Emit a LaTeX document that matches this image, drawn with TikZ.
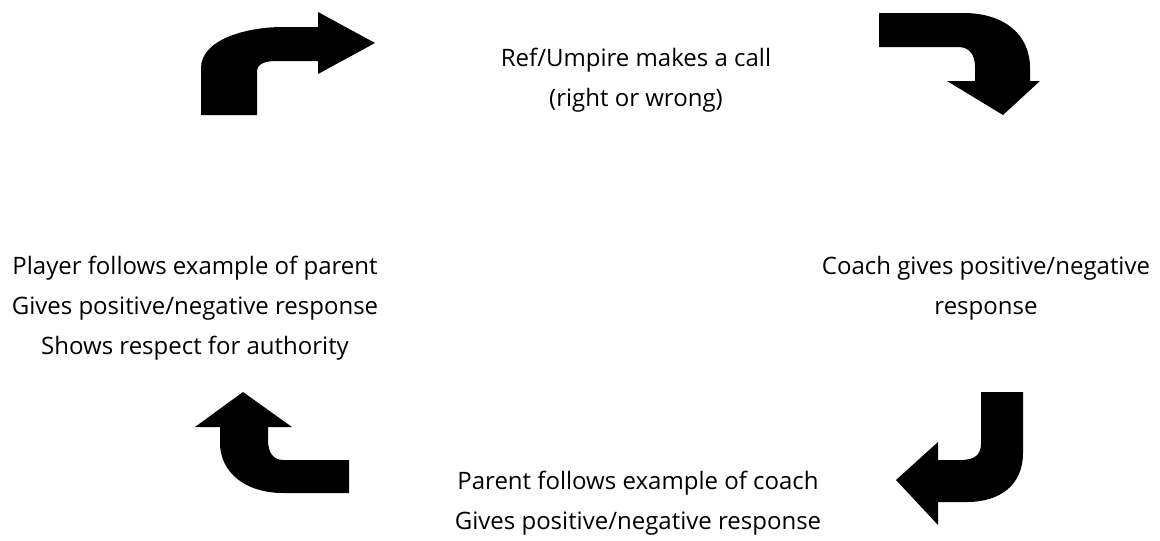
\documentclass[tikz,border=0pt]{standalone}
\usepackage{fontspec}
\setmainfont{Open Sans}
\usetikzlibrary{positioning}

\begin{document}
\begin{tikzpicture}[x=1pt, y=-1pt,
    bentarrow/.style={fill=black, draw=none},
    caption/.style={align=center, inner sep=0pt, font=\fontsize{24}{40}\selectfont}]

  % frame (keeps the page size)
  \useasboundingbox (0,0) rectangle (1160,541);

  % the four steps of the cycle
  \node[caption] (call) at (636,80) {Ref/Umpire makes a call\\(right or wrong)};
  \node[caption] (coach) at (986,288) {Coach gives positive/negative\\response};
  \node[caption] (parent) at (638,503) {Parent follows example of coach\\Gives positive/negative response};
  \node[caption] (player) at (195,308) {Player follows example of parent\\Gives positive/negative response\\Shows respect for authority};

  % bent arrows between the steps
  % top left: up, then right
  \fill[bentarrow] (201,115) -- (201,68) .. controls (201,40) and (245,27) .. (283,27)
    -- (318,27) -- (318,12) -- (375,43) -- (318,74) -- (318,61) -- (277,61)
    .. controls (264,61) and (257,64) .. (257,72) -- (257,115) -- cycle;

  % top right: right, then down
  \fill[bentarrow] (879,13) -- (963,13) .. controls (1005,13) and (1030,35) .. (1030,68)
    -- (1030,81) -- (1040,81) -- (1003,115) -- (947,81) -- (975,81) -- (975,67)
    .. controls (975,54) and (969,47) .. (958,47) -- (879,47) -- cycle;

  % bottom right: down, then left
  \fill[bentarrow] (981,392) -- (1023,392) -- (1023,453) .. controls (1023,485) and (1000,502) .. (967,502)
    -- (938,502) -- (938,525) -- (896,480) -- (938,442) -- (938,460) -- (960,460)
    .. controls (975,460) and (981,455) .. (981,443) -- cycle;

  % bottom left: left, then up
  \fill[bentarrow] (349,460) -- (283,460) .. controls (273,460) and (268,452) .. (268,440)
    -- (268,427) -- (292,427) -- (243,392) -- (195,427) -- (220,427) -- (220,443)
    .. controls (220,472) and (245,493) .. (283,493) -- (349,493) -- cycle;

\end{tikzpicture}
\end{document}
